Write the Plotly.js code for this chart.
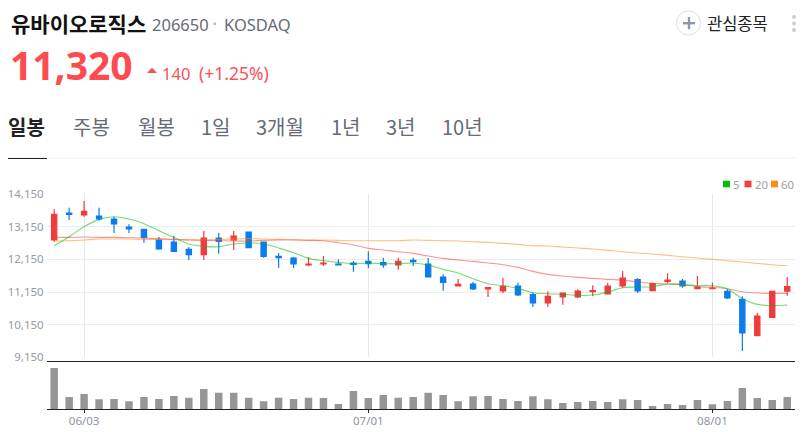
<![CDATA[<!DOCTYPE html>
<html><head><meta charset="utf-8">
<script src="https://cdn.plot.ly/plotly-3.0.1.min.js"></script>
<style>html,body{margin:0;padding:0;background:#fff;overflow:hidden}</style>
</head><body><div id="chart" style="width:803px;height:432px"></div>
<script>
const dayIndex = Array.from({length:50},(_,i)=>i);
const tickIndex = [2,21,44];
const tickLabels = ['06/03','07/01','08/01'];
const priceTicks = [9150,10150,11150,12150,13150,14150];
const priceLabels = ['9,150','10,150','11,150','12,150','13,150','14,150'];
const openPrice = [12742,13568,13508,13477,13385,13140,13069,12742,12681,12457,12294,12804,12742,12987,12681,12243,12192,11977,12008,12008,12039,12090,12049,11977,12120,12008,11610,11335,11396,11243,11182,11335,11069,10815,10998,10998,11161,11090,11335,11529,11192,11477,11488,11253,11253,11172,10927,9815,10376,11180];
const highPrice = [13681,13732,13936,13732,13456,13222,13079,12834,12865,12528,13018,12957,13018,12987,12681,12345,12222,12222,12253,12151,12100,12396,12202,12202,12202,12192,11692,11549,11457,11314,11590,11437,11131,11172,11131,11233,11355,11437,11794,11569,11416,11722,11549,11641,11437,11233,11019,10519,11172,11610];
const lowPrice = [12691,13354,13456,13334,12957,12957,12661,12447,12375,12130,12130,12324,12436,12487,12202,11896,11886,11947,11947,11977,11773,11886,11896,11835,11947,11610,11192,11335,11212,10998,11121,11029,10692,10692,10763,10967,11019,11090,11284,11131,11172,11416,11284,11253,11253,10937,9346,9815,10376,11039];
const closePrice = [13528,13528,13620,13385,13232,13079,12824,12467,12396,12294,12804,12702,12865,12508,12243,12202,12008,12008,12039,11977,11998,12018,11977,12090,12079,11610,11447,11386,11243,11284,11325,11059,10815,11018,11120,11182,11192,11335,11580,11182,11406,11518,11335,11304,11274,10968,9897,10417,11172,11320];
const ma5 = [12568,12844,13150,13374,13456,13385,13242,13028,12823,12619,12548,12538,12619,12650,12630,12497,12354,12181,12109,12058,12017,12038,12017,12017,12038,11976,11844,11732,11558,11405,11344,11262,11130,11099,11079,11048,11058,11150,11283,11303,11313,11395,11375,11344,11344,11252,10946,10772,10732,10752];
const ma20 = [12823,12823,12834,12823,12823,12813,12803,12783,12762,12742,12732,12721,12711,12711,12732,12742,12742,12732,12721,12660,12589,12487,12436,12385,12334,12252,12181,12130,12089,12038,11987,11905,11783,11691,11640,11599,11568,11538,11517,11456,11415,11395,11385,11313,11293,11252,11160,11119,11109,11109];
const ma60 = [12711,12721,12742,12772,12772,12772,12762,12762,12752,12752,12742,12762,12772,12783,12772,12762,12752,12742,12742,12732,12721,12721,12721,12721,12742,12732,12721,12711,12691,12670,12640,12609,12568,12558,12528,12497,12466,12425,12385,12344,12313,12272,12232,12191,12150,12109,12068,12027,11987,11956];
const volume = [123,36,45,29,30,23,36,30,39,34,60,49,49,34,23,34,30,34,33,15,54,33,42,34,36,49,42,23,38,39,30,24,38,29,18,21,24,21,29,27,9,15,12,27,14,24,63,33,27,36];
const legendNames = ['5','20','60'];
const legendColors = ['#00c000','#fb3b3b','#ff8a14'];

const px = x => x/803, py = y => 1-y/432;
const RED='#f03a3d', BLUE='#0b7bf0';
const base = {mode:'lines',hoverinfo:'skip',showlegend:false,xaxis:'x',yaxis:'y'};
const data = [
 {type:'candlestick',x:dayIndex,open:openPrice,high:highPrice,low:lowPrice,close:closePrice,xaxis:'x',yaxis:'y',showlegend:false,whiskerwidth:0,
  increasing:{line:{color:RED,width:1.2},fillcolor:RED},decreasing:{line:{color:BLUE,width:1.2},fillcolor:BLUE}},
 {...base,type:'scatter',x:dayIndex,y:ma60,name:'60',line:{color:'#ff8a14',width:1.1,shape:'spline'},opacity:.55},
 {...base,type:'scatter',x:dayIndex,y:ma20,name:'20',line:{color:'#fb3b3b',width:1.1,shape:'spline'},opacity:.55},
 {...base,type:'scatter',x:dayIndex,y:ma5,name:'5',line:{color:'#00c000',width:1.1,shape:'spline'},opacity:.55},
 {type:'bar',x:dayIndex,y:volume,width:.5,marker:{color:'#969696',line:{width:0}},xaxis:'x2',yaxis:'y2',showlegend:false,hoverinfo:'skip'}
];
const KR='"Noto Sans CJK KR","Noto Sans",sans-serif', LAT='"Noto Sans","Noto Sans CJK KR",sans-serif';
const txt=(text,x,y,size,color,family=KR,anchor='left')=>({text,x:px(x),y:py(y),xref:'paper',yref:'paper',xanchor:anchor,yanchor:'middle',showarrow:false,
  xshift:0,font:{size,color,family},borderpad:0,bgcolor:'rgba(0,0,0,0)'});
const tabs=[['일봉',7],['주봉',72],['월봉',137],['1일',200],['3개월',255],['1년',330],['3년',385],['10년',441]];
const annotations=[
 txt('<b>유바이오로직스</b>',10,23,21,'#111'),
 txt('206650',151,24,16.5,'#666b75',LAT),
 txt('KOSDAQ',223,24,16.5,'#666b75',LAT),
 txt('<b>11,320</b>',9,64,39,'#ff4b4f',LAT),
 txt('140',161,73,16.5,'#f6535a',LAT),
 txt('(+1.25%)',198,73,17.5,'#f6535a',LAT),
 txt('관심종목',706,23,16.5,'#222'),
 ...tabs.map(([t,x],i)=>txt(i==0?'<b>'+t+'</b>':t,x,126,20,i==0?'#222':'#666b75')),
 ...legendNames.map((n,i)=>txt(n,[732,753.5,779.5][i],184,11.5,'#9aa0aa',LAT))
];
const rect=(x0,y0,x1,y1,c)=>({type:'rect',xref:'paper',yref:'paper',x0:px(x0),x1:px(x1),y0:py(y0),y1:py(y1),fillcolor:c,line:{width:0},layer:'above'});
const shapes=[
 rect(8,157.6,795,158.6,'#f0f0f0'),
 rect(8,158,47,159,'#222'),
 rect(213.5,22.5,216,25,'#b8bcc5'),
 rect(723,180.7,730,187.3,legendColors[0]),
 rect(744.5,180.7,751.5,187.3,legendColors[1]),
 rect(771,180.7,778,187.3,legendColors[2]),
 {type:'circle',xref:'paper',yref:'paper',x0:px(676.5),x1:px(700.5),y0:py(11),y1:py(35),line:{color:'#d9dde5',width:1},fillcolor:'#fff'},
 rect(683,22,695,24.4,'#8e98a8'),
 rect(687.8,17,690.2,29.2,'#8e98a8'),
 {type:'path',xref:'paper',yref:'paper',path:`M ${px(147)} ${py(73)} L ${px(157)} ${py(73)} L ${px(152)} ${py(67.5)} Z`,fillcolor:'#f6535a',line:{width:0}},
 ...[17,23.5,30].map(y=>({type:'circle',xref:'paper',yref:'paper',x0:px(792),x1:px(796),y0:py(y-2),y1:py(y+2),fillcolor:'#c9cdd7',line:{width:0}}))
];
const layout={
 width:803,height:432,margin:{l:0,r:0,t:0,b:0},paper_bgcolor:'#fff',plot_bgcolor:'#fff',showlegend:false,
 boxgap:.5,bargap:.5,dragmode:false,
 xaxis:{domain:[px(46.7),px(794.7)],range:[-.5,49.5],anchor:'y',tickmode:'array',tickvals:tickIndex,ticktext:tickLabels,showticklabels:false,ticks:'',
   showgrid:true,gridcolor:'#e6e8ec',gridwidth:1,zeroline:false,showline:false,rangeslider:{visible:false},fixedrange:true},
 yaxis:{domain:[py(357.4),py(194)],range:[9150,14150],anchor:'x',tickmode:'array',tickvals:priceTicks,ticktext:priceLabels,
   showgrid:true,gridcolor:'#ececec',gridwidth:1,zeroline:false,showline:false,ticks:'',ticklabelstandoff:2,
   tickfont:{size:11.5,color:'#959ba6',family:LAT},fixedrange:true},
 xaxis2:{domain:[px(46.7),px(794.7)],range:[-.5,49.5],anchor:'y2',tickmode:'array',tickvals:tickIndex,ticktext:tickLabels,showgrid:false,zeroline:false,
   showline:true,mirror:true,linecolor:'#222',linewidth:1,ticks:'outside',ticklen:3,tickcolor:'#222',tickwidth:1,ticklabelstandoff:-2,
   tickfont:{size:11.5,color:'#8d95a3',family:LAT},fixedrange:true},
 yaxis2:{domain:[py(409),py(362.3)],range:[0,140],anchor:'x2',showgrid:false,zeroline:false,showline:false,showticklabels:false,ticks:'',fixedrange:true},
 annotations,shapes
};
Plotly.newPlot('chart',data,layout,{displayModeBar:false,staticPlot:true});
</script></body></html>]]>
